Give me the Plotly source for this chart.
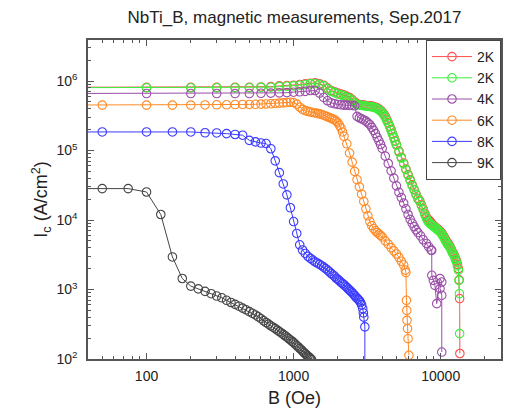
import math
import plotly.graph_objects as go

# ---------------- data ----------------
B_2K_red = [20, 100, 200, 300, 400, 500, 600, 700, 800, 900, 1000, 1100, 1200, 1300, 1400, 1500,
            1600, 1700, 1800, 1900, 2000, 2100, 2200, 2300, 2400, 2500, 2600, 2700, 2800, 2900,
            3000, 3100, 3200, 3300, 3400, 3500, 3600, 3700, 3800, 3900, 4000, 4100, 4200, 4300,
            4400, 4500, 4600, 4700, 4800, 4900, 5000, 5200, 5400, 5600, 5800, 6000, 6200, 6400,
            6600, 6800, 7000, 7200, 7400, 7600, 7800, 8000, 8200, 8400, 8600, 8800, 9000, 9200,
            9400, 9600, 9800, 10000, 10200, 10400, 10600, 10800, 11000, 11200, 11400, 11600,
            11800, 12000, 12200, 12400, 12600, 12800, 13000, 13200, 13350, 13450, 13500]
I_2K_red = [8.1e5, 8.1e5, 8.1e5, 8.1e5, 8.1e5, 8.1e5, 8.2e5, 8.3e5, 8.5e5, 8.6e5, 8.7e5, 8.9e5,
            9.1e5, 9.3e5, 9.4e5, 9.1e5, 8.7e5, 7.9e5, 7.3e5, 7.0e5, 6.7e5, 6.5e5, 6.3e5, 6.0e5,
            5.8e5, 5.4e5, 5.0e5, 4.7e5, 4.6e5, 4.55e5, 4.5e5, 4.45e5, 4.4e5, 4.4e5, 4.35e5,
            4.3e5, 4.2e5, 4.1e5, 3.95e5, 3.8e5, 3.6e5, 3.35e5, 3.1e5, 2.8e5, 2.5e5, 2.25e5,
            2.0e5, 1.75e5, 1.55e5, 1.38e5, 1.22e5, 9.8e4, 8.0e4, 6.6e4, 5.4e4, 4.5e4, 3.8e4,
            3.2e4, 2.75e4, 2.35e4, 2.05e4, 1.9e4, 1.65e4, 1.45e4, 1.25e4, 1.1e4, 1.0e4, 9.8e3,
            9.2e3, 8.6e3, 8.2e3, 7.9e3, 7.6e3, 7.3e3, 7.1e3, 6.8e3, 6.4e3, 6.0e3, 5.6e3, 5.2e3,
            4.9e3, 4.6e3, 4.4e3, 4.1e3, 3.8e3, 3.5e3, 3.3e3, 3.1e3, 2.8e3, 2.6e3, 2.3e3, 2.0e3,
            1.38e3, 740, 120]

B_2K_green = [20, 100, 200, 300, 400, 500, 600, 700, 800, 900, 1000, 1100, 1200, 1300, 1400, 1500,
              1600, 1700, 1800, 1900, 2000, 2100, 2200, 2300, 2400, 2500, 2600, 2700, 2800, 2900,
              3000, 3100, 3200, 3300, 3400, 3500, 3600, 3700, 3800, 3900, 4000, 4100, 4200, 4300,
              4400, 4500, 4600, 4700, 4800, 4900, 5000, 5200, 5400, 5600, 5800, 6000, 6200, 6400,
              6600, 6800, 7000, 7200, 7400, 7600, 7800, 8000, 8200, 8400, 8600, 8800, 9000, 9200,
              9400, 9600, 9800, 10000, 10200, 10400, 10600, 10800, 11000, 11200, 11400, 11600,
              11800, 12000, 12200, 12400, 12600, 12800, 13000, 13200, 13300, 13400, 13450]
I_2K_green = [8.0e5, 8.0e5, 8.0e5, 8.0e5, 8.0e5, 8.0e5, 8.1e5, 8.15e5, 8.3e5, 8.4e5, 8.5e5, 8.7e5,
              8.9e5, 9.1e5, 9.2e5, 8.9e5, 8.5e5, 7.7e5, 7.1e5, 6.8e5, 6.5e5, 6.3e5, 6.1e5, 5.8e5,
              5.6e5, 5.2e5, 4.8e5, 4.6e5, 4.5e5, 4.45e5, 4.4e5, 4.35e5, 4.3e5, 4.3e5, 4.25e5,
              4.2e5, 4.1e5, 4.0e5, 3.85e5, 3.7e5, 3.5e5, 3.25e5, 3.0e5, 2.7e5, 2.45e5, 2.2e5,
              1.95e5, 1.72e5, 1.52e5, 1.35e5, 1.2e5, 9.5e4, 7.8e4, 6.4e4, 5.3e4, 4.4e4, 3.7e4,
              3.1e4, 2.7e4, 2.3e4, 2.0e4, 1.85e4, 1.6e4, 1.4e4, 1.2e4, 1.05e4, 9.5e3, 9.0e3,
              8.6e3, 8.3e3, 8.0e3, 7.7e3, 7.4e3, 7.1e3, 6.9e3, 6.6e3, 6.2e3, 5.8e3, 5.4e3, 5.0e3,
              4.7e3, 4.4e3, 4.2e3, 4.0e3, 3.7e3, 3.4e3, 3.2e3, 3.0e3, 2.7e3, 2.5e3, 2.2e3, 1.9e3,
              1.35e3, 870, 232]

B_4K = [20, 100, 200, 300, 400, 500, 600, 700, 800, 900, 1000, 1100, 1200, 1300, 1400, 1500,
        1600, 1700, 1800, 1900, 2000, 2100, 2200, 2300, 2400, 2500, 2600, 2700, 2800, 2900, 3000,
        3100, 3200, 3300, 3400, 3500, 3600, 3700, 3800, 3900, 4000, 4200, 4400, 4600, 4800, 5000,
        5200, 5400, 5600, 5800, 6000, 6200, 6400, 6600, 6800, 7000, 7300, 7600, 8000, 8300, 8600,
        8690, 8700, 8910, 9130, 9400, 9890, 10170, 9890, 10170, 10170]
I_4K = [6.6e5, 6.6e5, 6.6e5, 6.6e5, 6.6e5, 6.6e5, 6.65e5, 6.7e5, 6.75e5, 6.8e5, 6.9e5, 7.0e5,
        7.1e5, 7.3e5, 7.3e5, 6.7e5, 5.8e5, 5.2e5, 4.85e5, 4.7e5, 4.6e5, 4.55e5, 4.5e5, 4.5e5,
        4.45e5, 4.45e5, 4.4e5, 3.1e5, 2.95e5, 2.85e5, 2.75e5, 2.65e5, 2.5e5, 2.35e5, 2.15e5,
        1.95e5, 1.75e5, 1.55e5, 1.38e5, 1.22e5, 1.07e5, 8.3e4, 6.5e4, 5.1e4, 4.0e4, 3.1e4,
        2.5e4, 2.1e4, 1.75e4, 1.45e4, 1.2e4, 1.02e4, 9.0e3, 8.0e3, 7.2e3, 6.6e3, 5.9e3, 5.2e3,
        4.6e3, 4.1e3, 3.7e3, 3.66e3, 1.6e3, 1355, 1148, 626, 1435, 1280, 1030, 826, 126]

B_6K = [20, 50, 100, 150, 200, 250, 300, 350, 400, 450, 500, 550, 600, 650, 700, 750, 800, 850,
        900, 950, 1000, 1050, 1100, 1150, 1200, 1250, 1300, 1350, 1400, 1450, 1500, 1550, 1600,
        1650, 1700, 1750, 1800, 1850, 1900, 1950, 2000, 2050, 2100, 2150, 2200, 2300, 2400, 2500,
        2600, 2700, 2800, 2900, 3000, 3100, 3200, 3300, 3400, 3500, 3600, 3700, 3800, 3900, 4000,
        4200, 4400, 4600, 4800, 5000, 5200, 5400, 5600, 5750, 5800, 5850, 5880, 5900, 5950, 6000,
        6080]
I_6K = [4.5e5, 4.5e5, 4.5e5, 4.5e5, 4.5e5, 4.52e5, 4.55e5, 4.55e5, 4.58e5, 4.6e5, 4.6e5, 4.62e5,
        4.65e5, 4.67e5, 4.7e5, 4.75e5, 4.8e5, 4.85e5, 4.9e5, 4.95e5, 4.9e5, 4.65e5, 4.2e5, 3.9e5,
        3.75e5, 3.65e5, 3.58e5, 3.52e5, 3.47e5, 3.42e5, 3.37e5, 3.3e5, 3.22e5, 3.14e5, 3.06e5,
        2.98e5, 2.9e5, 2.83e5, 2.75e5, 2.65e5, 2.5e5, 2.3e5, 2.1e5, 1.85e5, 1.6e5, 1.25e5,
        9.2e4, 6.8e4, 5.0e4, 3.8e4, 3.0e4, 2.35e4, 1.85e4, 1.45e4, 1.15e4, 9.5e3, 8.3e3, 7.5e3,
        7.0e3, 6.6e3, 6.3e3, 6.0e3, 5.7e3, 5.0e3, 4.5e3, 4.0e3, 3.6e3, 3.25e3, 2.9e3, 2.55e3,
        2.25e3, 1.9e3, 1.75e3, 700, 500, 360, 274, 196, 113]

B_8K = [20, 50, 100, 150, 200, 250, 300, 350, 400, 450, 500, 550, 600, 650, 700, 750, 800, 850,
        900, 950, 1000, 1050, 1100, 1150, 1200, 1250, 1300, 1350, 1400, 1450, 1500, 1550, 1600,
        1650, 1700, 1750, 1800, 1850, 1900, 1950, 2000, 2050, 2100, 2150, 2200, 2250, 2300, 2350,
        2400, 2450, 2500, 2550, 2600, 2650, 2700, 2750, 2800, 2850, 2900, 2950, 2980, 3000, 3050,
        3050]
I_8K = [1.85e5, 1.85e5, 1.85e5, 1.85e5, 1.85e5, 1.8e5, 1.79e5, 1.75e5, 1.7e5, 1.66e5, 1.4e5,
        1.33e5, 1.28e5, 1.26e5, 1.06e5, 7.1e4, 4.8e4, 3.3e4, 2.3e4, 1.5e4, 9.5e3, 6.4e3, 4.4e3,
        3.7e3, 3.3e3, 3.0e3, 2.8e3, 2.65e3, 2.5e3, 2.4e3, 2.3e3, 2.2e3, 2.1e3, 2.0e3, 1.9e3,
        1.8e3, 1.7e3, 1.62e3, 1.55e3, 1.45e3, 1.4e3, 1.33e3, 1.27e3, 1.22e3, 1.17e3, 1.12e3,
        1.07e3, 1.02e3, 980, 940, 900, 860, 820, 780, 750, 720, 690, 650, 600, 530, 460, 400,
        290, 1]

B_9K = [20, 50, 75, 100, 125, 150, 175, 200, 225, 250, 275, 300, 325, 350, 375, 400, 425, 450,
        475, 500, 525, 550, 575, 600, 625, 650, 675, 700, 725, 750, 775, 800, 825, 850, 875, 900,
        925, 950, 975, 1000, 1025, 1050, 1075, 1100, 1125, 1150, 1175, 1200, 1225, 1250, 1275,
        1300, 1325]
I_9K = [2.83e4, 2.83e4, 2.83e4, 2.53e4, 1.2e4, 2.94e3, 1.44e3, 1.12e3, 1.02e3, 940, 870, 805,
        760, 700, 650, 610, 575, 540, 510, 480, 455, 430, 405, 380, 355, 335, 318, 300, 287, 274,
        260, 248, 237, 226, 216, 206, 197, 188, 180, 172, 164, 156, 149, 142, 136, 130, 124, 119,
        114, 110, 106, 102, 98]

series_names = ["2K", "2K", "4K", "6K", "8K", "9K"]
series_colors = ["#ff4d4d", "#3cef3c", "#9a4ea8", "#ff8a26", "#3b3bff", "#454545"]

x_tickvals = [100, 1000, 10000]
x_ticktext = ["100", "1000", "10000"]
y_tickvals = [1e2, 1e3, 1e4, 1e5, 1e6]
y_ticktext = ["10<sup>2</sup>", "10<sup>3</sup>", "10<sup>4</sup>", "10<sup>5</sup>", "10<sup>6</sup>"]

x_minor = [m * 10 ** e for e in (1, 2, 3, 4) for m in range(2, 10) if 40 <= m * 10 ** e <= 25000]
y_minor = [m * 10 ** e for e in (2, 3, 4, 5, 6) for m in range(2, 10) if m * 10 ** e <= 3.9e6]

# ---------------- figure ----------------
fig = go.Figure()
all_x = [B_2K_red, B_2K_green, B_4K, B_6K, B_8K, B_9K]
all_y = [I_2K_red, I_2K_green, I_4K, I_6K, I_8K, I_9K]
for xs, ys, name, col in zip(all_x, all_y, series_names, series_colors):
    fig.add_trace(go.Scatter(
        x=xs, y=ys, name=name, mode="lines+markers",
        line=dict(color=col, width=1),
        marker=dict(symbol="circle-open", size=8.5, color=col, line=dict(width=1.1, color=col)),
    ))

axis_col = "#555555"
common = dict(type="log", showgrid=False, zeroline=False, showline=True, linecolor=axis_col,
              linewidth=1.5, mirror="allticks", ticks="inside", ticklen=6, tickwidth=1,
              tickcolor=axis_col, tickfont=dict(size=14, color="#222"), automargin=False)

fig.update_xaxes(range=[math.log10(40), math.log10(25700)], tickmode="array",
                 tickvals=x_tickvals, ticktext=x_ticktext,
                 minor=dict(tickmode="array", tickvals=x_minor, ticks="inside", ticklen=3,
                            tickcolor=axis_col, showgrid=False),
                 ticklabelstandoff=3,
                 title=dict(text="B (Oe)", font=dict(size=18, color="#222"), standoff=20),
                 **common)
fig.update_yaxes(range=[2, 6.59], tickmode="array", tickvals=y_tickvals, ticktext=y_ticktext,
                 minor=dict(tickmode="array", tickvals=y_minor, ticks="inside", ticklen=3,
                            tickcolor=axis_col, showgrid=False),
                 ticklabelstandoff=6,
                 title=dict(text="I<sub>c</sub> (A/cm<sup>2</sup>)", font=dict(size=18, color="#222"),
                            standoff=4),
                 **common)

fig.update_layout(
    width=513, height=408,
    margin=dict(l=88, r=12, t=40, b=49),
    plot_bgcolor="white", paper_bgcolor="white",
    font=dict(family="Liberation Sans, Arial, sans-serif", color="#222"),
    title=dict(text="NbTi_B, magnetic measurements, Sep.2017", x=0.5, xref="paper",
               xanchor="center", y=1 - 17 / 408, yref="container", yanchor="middle",
               font=dict(size=17, color="#222")),
    legend=dict(x=1, xanchor="right", y=1, yanchor="top", bordercolor="#444", borderwidth=1,
                bgcolor="white", font=dict(size=14, color="#222"), itemwidth=40,
                tracegroupgap=0),
)

fig.write_html("out.html")
